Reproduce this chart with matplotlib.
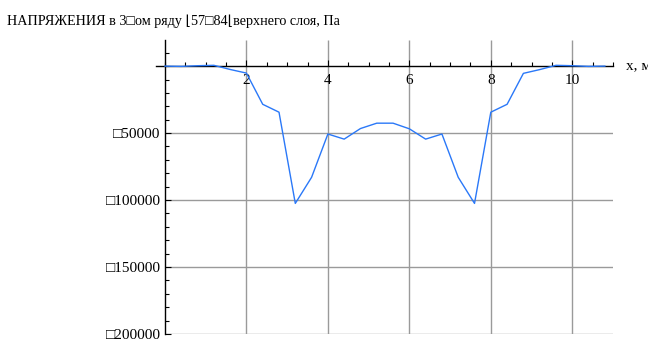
import numpy as np
import matplotlib
matplotlib.use("Agg")
import matplotlib.pyplot as plt
from matplotlib.ticker import MultipleLocator, FixedLocator

# stresses along the row, x in metres, values in Pa
x_m = [0.0, 0.4, 0.8, 1.2, 1.6, 2.0, 2.4, 2.8, 3.2, 3.6, 4.0, 4.4, 4.8, 5.2,
       5.6, 6.0, 6.4, 6.8, 7.2, 7.6, 8.0, 8.4, 8.8, 9.2, 9.6, 10.0, 10.4, 10.8]
stress_pa = [0, -200, 300, 600, -2500, -5200, -28500, -34400, -102500, -83000,
             -50700, -54500, -46600, -42600, -42600, -46800, -54500, -50700,
             -83000, -102500, -34400, -28500, -5400, -2600, 600, 300, -200, 0]

x_ticks = [2, 4, 6, 8, 10]
y_ticks = [-50000, -100000, -150000, -200000]
y_labels = ["\u25a150000", "\u25a1100000", "\u25a1150000", "\u25a1200000"]
title = "НАПРЯЖЕНИЯ в 3\u25a1ом ряду \u230a57\u25a184\u230aверхнего слоя, Па"

plt.rcParams["font.family"] = ["Liberation Serif", "DejaVu Sans"]

fig = plt.figure(figsize=(6.48, 3.40), dpi=100)
ax = fig.add_axes([156 / 648, 6 / 340, 457 / 648, 294 / 340])

x_left, x_right = -0.22, 11.0
y_bottom, y_top = -200000, 19500
ax.set_xlim(x_left, x_right)
ax.set_ylim(y_bottom, y_top)

# grid
ax.vlines(x_ticks, y_bottom, y_top, color="#9a9a9a", lw=1.0, zorder=1)
ax.hlines(y_ticks, 0, x_right, color="#9a9a9a", lw=1.0, zorder=1)

ax.plot(x_m, stress_pa, color="#2a78f8", lw=1.0, zorder=3)

# axes cross at the origin
for side in ("top", "right"):
    ax.spines[side].set_visible(False)
ax.spines["left"].set_position(("data", 0))
ax.spines["bottom"].set_position(("data", 0))
ax.spines["left"].set_linewidth(1.0)
ax.spines["bottom"].set_linewidth(1.0)

ax.xaxis.set_major_locator(FixedLocator(x_ticks))
ax.xaxis.set_minor_locator(MultipleLocator(0.5))
ax.yaxis.set_major_locator(FixedLocator(y_ticks))
ax.yaxis.set_minor_locator(MultipleLocator(10000))
ax.set_xticklabels([str(t) for t in x_ticks])
ax.set_yticklabels(y_labels)

ax.tick_params(axis="both", which="major", direction="in", length=4,
               width=0.8, labelsize=11)
ax.tick_params(axis="both", which="minor", direction="in", length=3, width=0.8)
ax.tick_params(axis="x", which="major", pad=6)
ax.tick_params(axis="y", which="major", pad=3)

ax.annotate("x, м", xy=(1, 0), xycoords=("axes fraction", "data"),
            xytext=(9, 0), textcoords="offset points", va="center",
            ha="left", fontsize=11, annotation_clip=False)

fig.text(7 / 648, 1 - 21 / 340, title, ha="left", va="center", fontsize=10.2)

fig.savefig("out.png", dpi=100)
